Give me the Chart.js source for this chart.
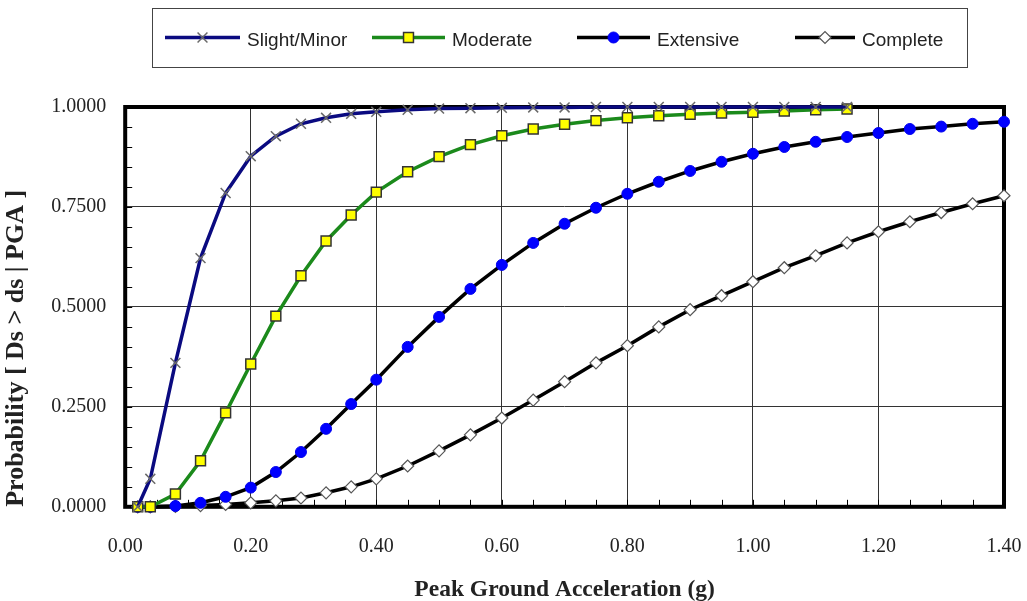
<!DOCTYPE html>
<html>
<head>
<meta charset="utf-8">
<script src="https://cdn.jsdelivr.net/npm/chart.js@4"></script>
<style>
html, body { margin: 0; padding: 0; background: #fff; }
#wrap { width: 1027px; height: 601px; }
</style>
</head>
<body>
<div id="wrap"><canvas id="fragilityChart"></canvas></div>
<script>
// PGA values (g) where the curves are sampled
const pga = [0.02, 0.04, 0.08, 0.12, 0.16, 0.20, 0.24, 0.28, 0.32, 0.36, 0.40,
    0.45, 0.50, 0.55, 0.60, 0.65, 0.70, 0.75, 0.80, 0.85, 0.90, 0.95, 1.00,
    1.05, 1.10, 1.15, 1.20, 1.25, 1.30, 1.35, 1.40];

// probability of exceeding each damage state (Slight and Moderate stop at 1.15 g)
const slightMinor = [0.000, 0.070, 0.360, 0.622, 0.785, 0.877, 0.927, 0.958, 0.973, 0.983, 0.988,
    0.993, 0.996, 0.997, 0.998, 0.999, 0.999, 1.000, 1.000, 1.000, 1.000, 1.000, 1.000,
    1.000, 1.000, 1.000];
const moderate = [0.000, 0.000, 0.032, 0.115, 0.235, 0.357, 0.477, 0.578, 0.665, 0.730, 0.787,
    0.838, 0.876, 0.906, 0.928, 0.945, 0.957, 0.966, 0.973, 0.978, 0.982, 0.985, 0.987,
    0.990, 0.993, 0.995];
const extensive = [0.000, 0.000, 0.002, 0.010, 0.025, 0.048, 0.087, 0.137, 0.195, 0.257, 0.318,
    0.400, 0.475, 0.545, 0.605, 0.660, 0.708, 0.748, 0.783, 0.813, 0.840, 0.863, 0.883,
    0.900, 0.913, 0.925, 0.935, 0.945, 0.951, 0.958, 0.963];
const complete = [0.000, 0.000, 0.001, 0.003, 0.006, 0.010, 0.015, 0.022, 0.035, 0.050, 0.070,
    0.102, 0.140, 0.180, 0.222, 0.267, 0.313, 0.360, 0.403, 0.450, 0.493, 0.528, 0.563,
    0.598, 0.628, 0.660, 0.688, 0.713, 0.736, 0.758, 0.778];

const seriesNames = ['Slight/Minor', 'Moderate', 'Extensive', 'Complete'];

const xTickStep = 0.2;
const yTickStep = 0.25;
const minorStep = 0.05;

const toPoints = (xs, ys) => ys.map((y, i) => ({ x: xs[i], y: y }));

const serif = '"Liberation Serif", "Times New Roman", serif';

// thick frame round the plot + small inward minor ticks on bottom/left
const frameAndTicks = {
    id: 'frameAndTicks',
    beforeDatasetsDraw(chart) {
        const { ctx, chartArea: a, scales } = chart;
        ctx.save();
        ctx.strokeStyle = '#000';
        ctx.lineWidth = 1;
        ctx.beginPath();
        for (let v = minorStep; v < scales.x.max - 1e-6; v += minorStep) {
            const px = Math.round(scales.x.getPixelForValue(v)) + 0.5;
            ctx.moveTo(px, a.bottom);
            ctx.lineTo(px, a.bottom - 7);
        }
        for (let v = minorStep; v < scales.y.max - 1e-6; v += minorStep) {
            const py = Math.round(scales.y.getPixelForValue(v)) + 0.5;
            ctx.moveTo(a.left, py);
            ctx.lineTo(a.left + 7, py);
        }
        ctx.stroke();
        ctx.lineWidth = 4;
        ctx.strokeRect(a.left, a.top, a.right - a.left, a.bottom - a.top);
        ctx.restore();
    }
};

// boxed legend with line + marker samples, like the spreadsheet one
const boxLegend = {
    id: 'boxLegend',
    afterDraw(chart, args, opts) {
        const ctx = chart.ctx;
        const cy = opts.top + opts.height / 2;
        ctx.save();
        ctx.lineWidth = 1;
        ctx.strokeStyle = '#444';
        ctx.strokeRect(opts.left + 0.5, opts.top + 0.5, opts.width, opts.height);
        ctx.font = opts.font;
        ctx.textBaseline = 'middle';
        chart.data.datasets.forEach((ds, i) => {
            const it = opts.items[i];
            ctx.strokeStyle = ds.borderColor;
            ctx.lineWidth = ds.borderWidth;
            ctx.beginPath();
            ctx.moveTo(it.x0, cy);
            ctx.lineTo(it.x1, cy);
            ctx.stroke();
            ctx.fillStyle = ds.pointBackgroundColor;
            ctx.strokeStyle = ds.pointBorderColor;
            ctx.lineWidth = ds.pointBorderWidth;
            Chart.helpers.drawPoint(ctx, {
                pointStyle: ds.pointStyle,
                radius: ds.pointRadius,
                borderWidth: ds.pointBorderWidth,
                rotation: 0
            }, (it.x0 + it.x1) / 2, cy);
            ctx.fillStyle = '#222';
            ctx.fillText(ds.label, it.tx, cy + 3);
        });
        ctx.restore();
    }
};

new Chart(document.getElementById('fragilityChart'), {
    type: 'line',
    data: {
        datasets: [
            {
                label: seriesNames[0],
                data: toPoints(pga, slightMinor),
                borderColor: '#0a0a80',
                borderWidth: 3.5,
                pointStyle: 'crossRot',
                pointRadius: 7,
                pointBorderColor: '#6a6a6a',
                pointBackgroundColor: '#6a6a6a',
                pointBorderWidth: 1.5,
                clip: false
            },
            {
                label: seriesNames[1],
                data: toPoints(pga, moderate),
                borderColor: '#1b8a1b',
                borderWidth: 3.5,
                pointStyle: 'rect',
                pointRadius: 7,
                pointBorderColor: '#333',
                pointBackgroundColor: '#ffff00',
                pointBorderWidth: 1.5,
                clip: false
            },
            {
                label: seriesNames[2],
                data: toPoints(pga, extensive),
                borderColor: '#000',
                borderWidth: 3.5,
                pointStyle: 'circle',
                pointRadius: 5.5,
                pointBorderColor: '#0000ee',
                pointBackgroundColor: '#0000ff',
                pointBorderWidth: 1,
                clip: false
            },
            {
                label: seriesNames[3],
                data: toPoints(pga, complete),
                borderColor: '#000',
                borderWidth: 3.5,
                pointStyle: 'rectRot',
                pointRadius: 6,
                pointBorderColor: '#555',
                pointBackgroundColor: '#fff',
                pointBorderWidth: 1.2,
                clip: false
            }
        ]
    },
    options: {
        responsive: true,
        maintainAspectRatio: false,
        animation: false,
        layout: {
            padding: { top: 107, right: 23, left: 1, bottom: 0 }
        },
        scales: {
            x: {
                type: 'linear',
                min: 0,
                max: 1.4,
                // labels sit far below the frame, don't let that padding eat the right side
                afterFit: (scale) => { scale.paddingRight = 0; },
                ticks: {
                    stepSize: xTickStep,
                    callback: (v) => v.toFixed(2),
                    font: { family: serif, size: 20 },
                    color: '#222',
                    padding: 28,
                    maxRotation: 0
                },
                grid: { color: '#333', lineWidth: 1, drawTicks: false },
                border: { display: false },
                title: {
                    display: true,
                    text: 'Peak Ground Acceleration (g)',
                    font: { family: serif, size: 23.5, weight: 'bold' },
                    color: '#222',
                    padding: { top: -11, bottom: -3 }
                }
            },
            y: {
                min: 0,
                max: 1,
                ticks: {
                    stepSize: yTickStep,
                    callback: (v) => v.toFixed(4),
                    font: { family: serif, size: 20 },
                    color: '#222',
                    padding: 19
                },
                grid: { color: '#333', lineWidth: 1, drawTicks: false },
                border: { display: false },
                title: {
                    display: true,
                    text: 'Probability [ Ds > ds | PGA ]',
                    align: 'start',
                    font: { family: serif, size: 26, weight: 'bold' },
                    color: '#222',
                    padding: { top: 0, bottom: 0 }
                }
            }
        },
        plugins: {
            legend: { display: false },
            tooltip: { enabled: false },
            boxLegend: {
                left: 152, top: 8, width: 815, height: 59,
                font: '19px "Liberation Sans", Arial, sans-serif',
                items: [
                    { x0: 165, x1: 240, tx: 247 },
                    { x0: 372, x1: 445, tx: 452 },
                    { x0: 577, x1: 650, tx: 657 },
                    { x0: 795, x1: 855, tx: 862 }
                ]
            }
        }
    },
    plugins: [frameAndTicks, boxLegend]
});
</script>
</body>
</html>
